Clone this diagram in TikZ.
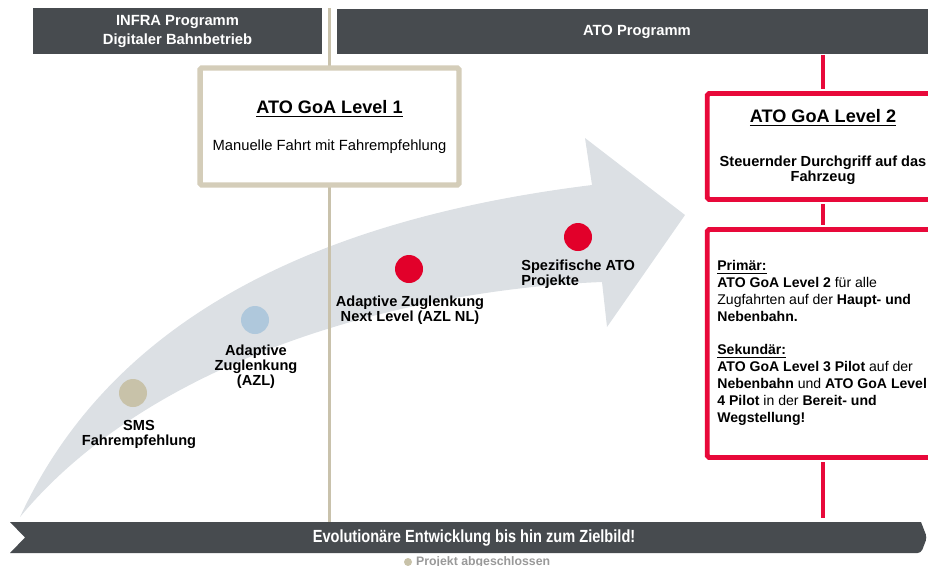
\documentclass[tikz,border=0pt]{standalone}
\usepackage{fontspec}
\setmainfont{Liberation Sans}
\newfontfamily\narrowfont[FakeStretch=0.83]{Liberation Sans}
\usetikzlibrary{positioning,calc}

\definecolor{dbgrey}{HTML}{474B4F}
\definecolor{dbtan}{HTML}{D4CDB9}
\definecolor{dbline}{HTML}{C9C2AC}
\definecolor{dbred}{HTML}{E8093A}
\definecolor{dotred}{HTML}{E2002A}
\definecolor{dotblue}{HTML}{AFC8DC}
\definecolor{dottan}{HTML}{C8C2A9}
\definecolor{arrowgrey}{HTML}{DCE0E4}

\begin{document}
\begin{tikzpicture}[
    x=0.02cm, y=-0.02cm,
    header/.style={rectangle, fill=dbgrey, text=white, font=\fontsize{8.4}{10.8}\selectfont\bfseries, align=center, minimum height=0.92cm, inner sep=0pt},
    levelbox/.style={rectangle, draw=dbtan, line width=3.1pt, fill=white, rounded corners=1pt, inner sep=0pt},
    redbox/.style={rectangle, draw=dbred, line width=2.8pt, fill=white, rounded corners=1pt, inner sep=0pt},
    boxtitle/.style={font=\fontsize{10.3}{12}\selectfont\bfseries},
    boxtext/.style={font=\fontsize{8.4}{8.6}\selectfont, align=center},
    milestone/.style={circle, minimum size=0.56cm, inner sep=0pt},
    mlabel/.style={font=\fontsize{8.3}{8.6}\selectfont\bfseries, align=center, inner sep=0pt},
    tanline/.style={draw=dbline, line width=1.7pt},
    redline/.style={draw=dbred, line width=2.2pt}
]
    \useasboundingbox (0,0) rectangle (928,565);

    % Evolution arrow
    \fill[arrowgrey] (20,517) .. controls (120,300) and (350,215) .. (592,185)
        -- (585,138) -- (685,215) -- (607,327) -- (602,282)
        .. controls (400,290) and (150,360) .. (20,517) -- cycle;

    % Programme headers
    \node[header, minimum width=5.78cm] (infra) at (177.5,31) {INFRA Programm\\Digitaler Bahnbetrieb};
    \node[header, minimum width=12.4cm] (atoprog) at (647,31.5) {};
    \node[header] at (637,31.5) {ATO Programm};

    % Bottom banner
    \coordinate (bartop) at (0,522);
    \fill[dbgrey] (10,522) -- (921,522) [rounded corners=2pt] -- (927,537.5) -- (921,553) [sharp corners] -- (10,553) -- (25,537.5) -- cycle;
    \node[text=white, font=\narrowfont\fontsize{10}{12}\selectfont\bfseries] (evo) at (474,537.5) {Evolutionäre Entwicklung bis hin zum Zielbild!};

    % Level 1
    \coordinate (divide) at (329.5,8);
    \draw[tanline] (divide) -- (divide |- bartop);
    \node[levelbox, minimum width=5.18cm, minimum height=2.34cm] (level1) at (329.5,126.5) {};
    \node[boxtitle] at (329.5,109) {\underline{ATO GoA Level 1}};
    \node[boxtext] at (329.5,147) {Manuelle Fahrt mit Fahrempfehlung};

    % Level 2
    \coordinate (redx) at (823,0);
    \node[redbox, minimum width=4.75cm, minimum height=2.12cm] (level2) at (826,146.5) {};
    \node[redbox, minimum width=4.75cm, minimum height=4.56cm] (targets) at (826,343.5) {};
    \draw[redline] (atoprog.south -| redx) -- ([yshift=1.4pt]level2.north -| redx);
    \draw[redline] ([yshift=-1.4pt]level2.south -| redx) -- ([yshift=1.4pt]targets.north -| redx);
    \draw[redline] ([yshift=-1.4pt]targets.south -| redx) -- ([yshift=0.08cm]bartop -| redx);
    \node[boxtitle] at (823,118) {\underline{ATO GoA Level 2}};
    \node[boxtext, font=\fontsize{8.3}{8.6}\selectfont\bfseries] at (823,170.5) {Steuernder Durchgriff auf das\\Fahrzeug};
    \node[anchor=north west, align=left, inner sep=0pt, font=\fontsize{8}{9.6}\selectfont] (goals) at (717,260) {%
        \textbf{\underline{Primär:}}\\
        \textbf{ATO GoA Level 2} für alle\\
        Zugfahrten auf der \textbf{Haupt- und}\\
        \textbf{Nebenbahn.}\\[9.6pt]
        \textbf{\underline{Sekundär:}}\\
        \textbf{ATO GoA Level 3 Pilot} auf der\\
        \textbf{Nebenbahn} und \textbf{ATO GoA Level}\\
        \textbf{4 Pilot} in der \textbf{Bereit- und}\\
        \textbf{Wegstellung!}};

    % Milestones
    \node[milestone, fill=dottan] (sms) at (133,393) {};
    \node[milestone, fill=dotblue] (azl) at (255,320) {};
    \node[milestone, fill=dotred] (azlnl) at (409,269) {};
    \node[milestone, fill=dotred] (specific) at (578,237) {};
    \node[mlabel] at (139,434) {SMS\\Fahrempfehlung};
    \node[mlabel] at (256,367) {Adaptive\\Zuglenkung\\(AZL)};
    \node[mlabel] at (410,310) {Adaptive Zuglenkung\\Next Level (AZL NL)};
    \node[mlabel, anchor=west, align=left] at (521,274.5) {Spezifische ATO\\Projekte};

    % Legend
    \node[circle, fill=dottan, minimum size=0.16cm, inner sep=0pt] (done) at (408,562) {};
    \node[right=2pt of done, inner sep=0pt, text=black!40, font=\fontsize{7}{8}\selectfont\bfseries] {Projekt abgeschlossen};
\end{tikzpicture}
\end{document}
